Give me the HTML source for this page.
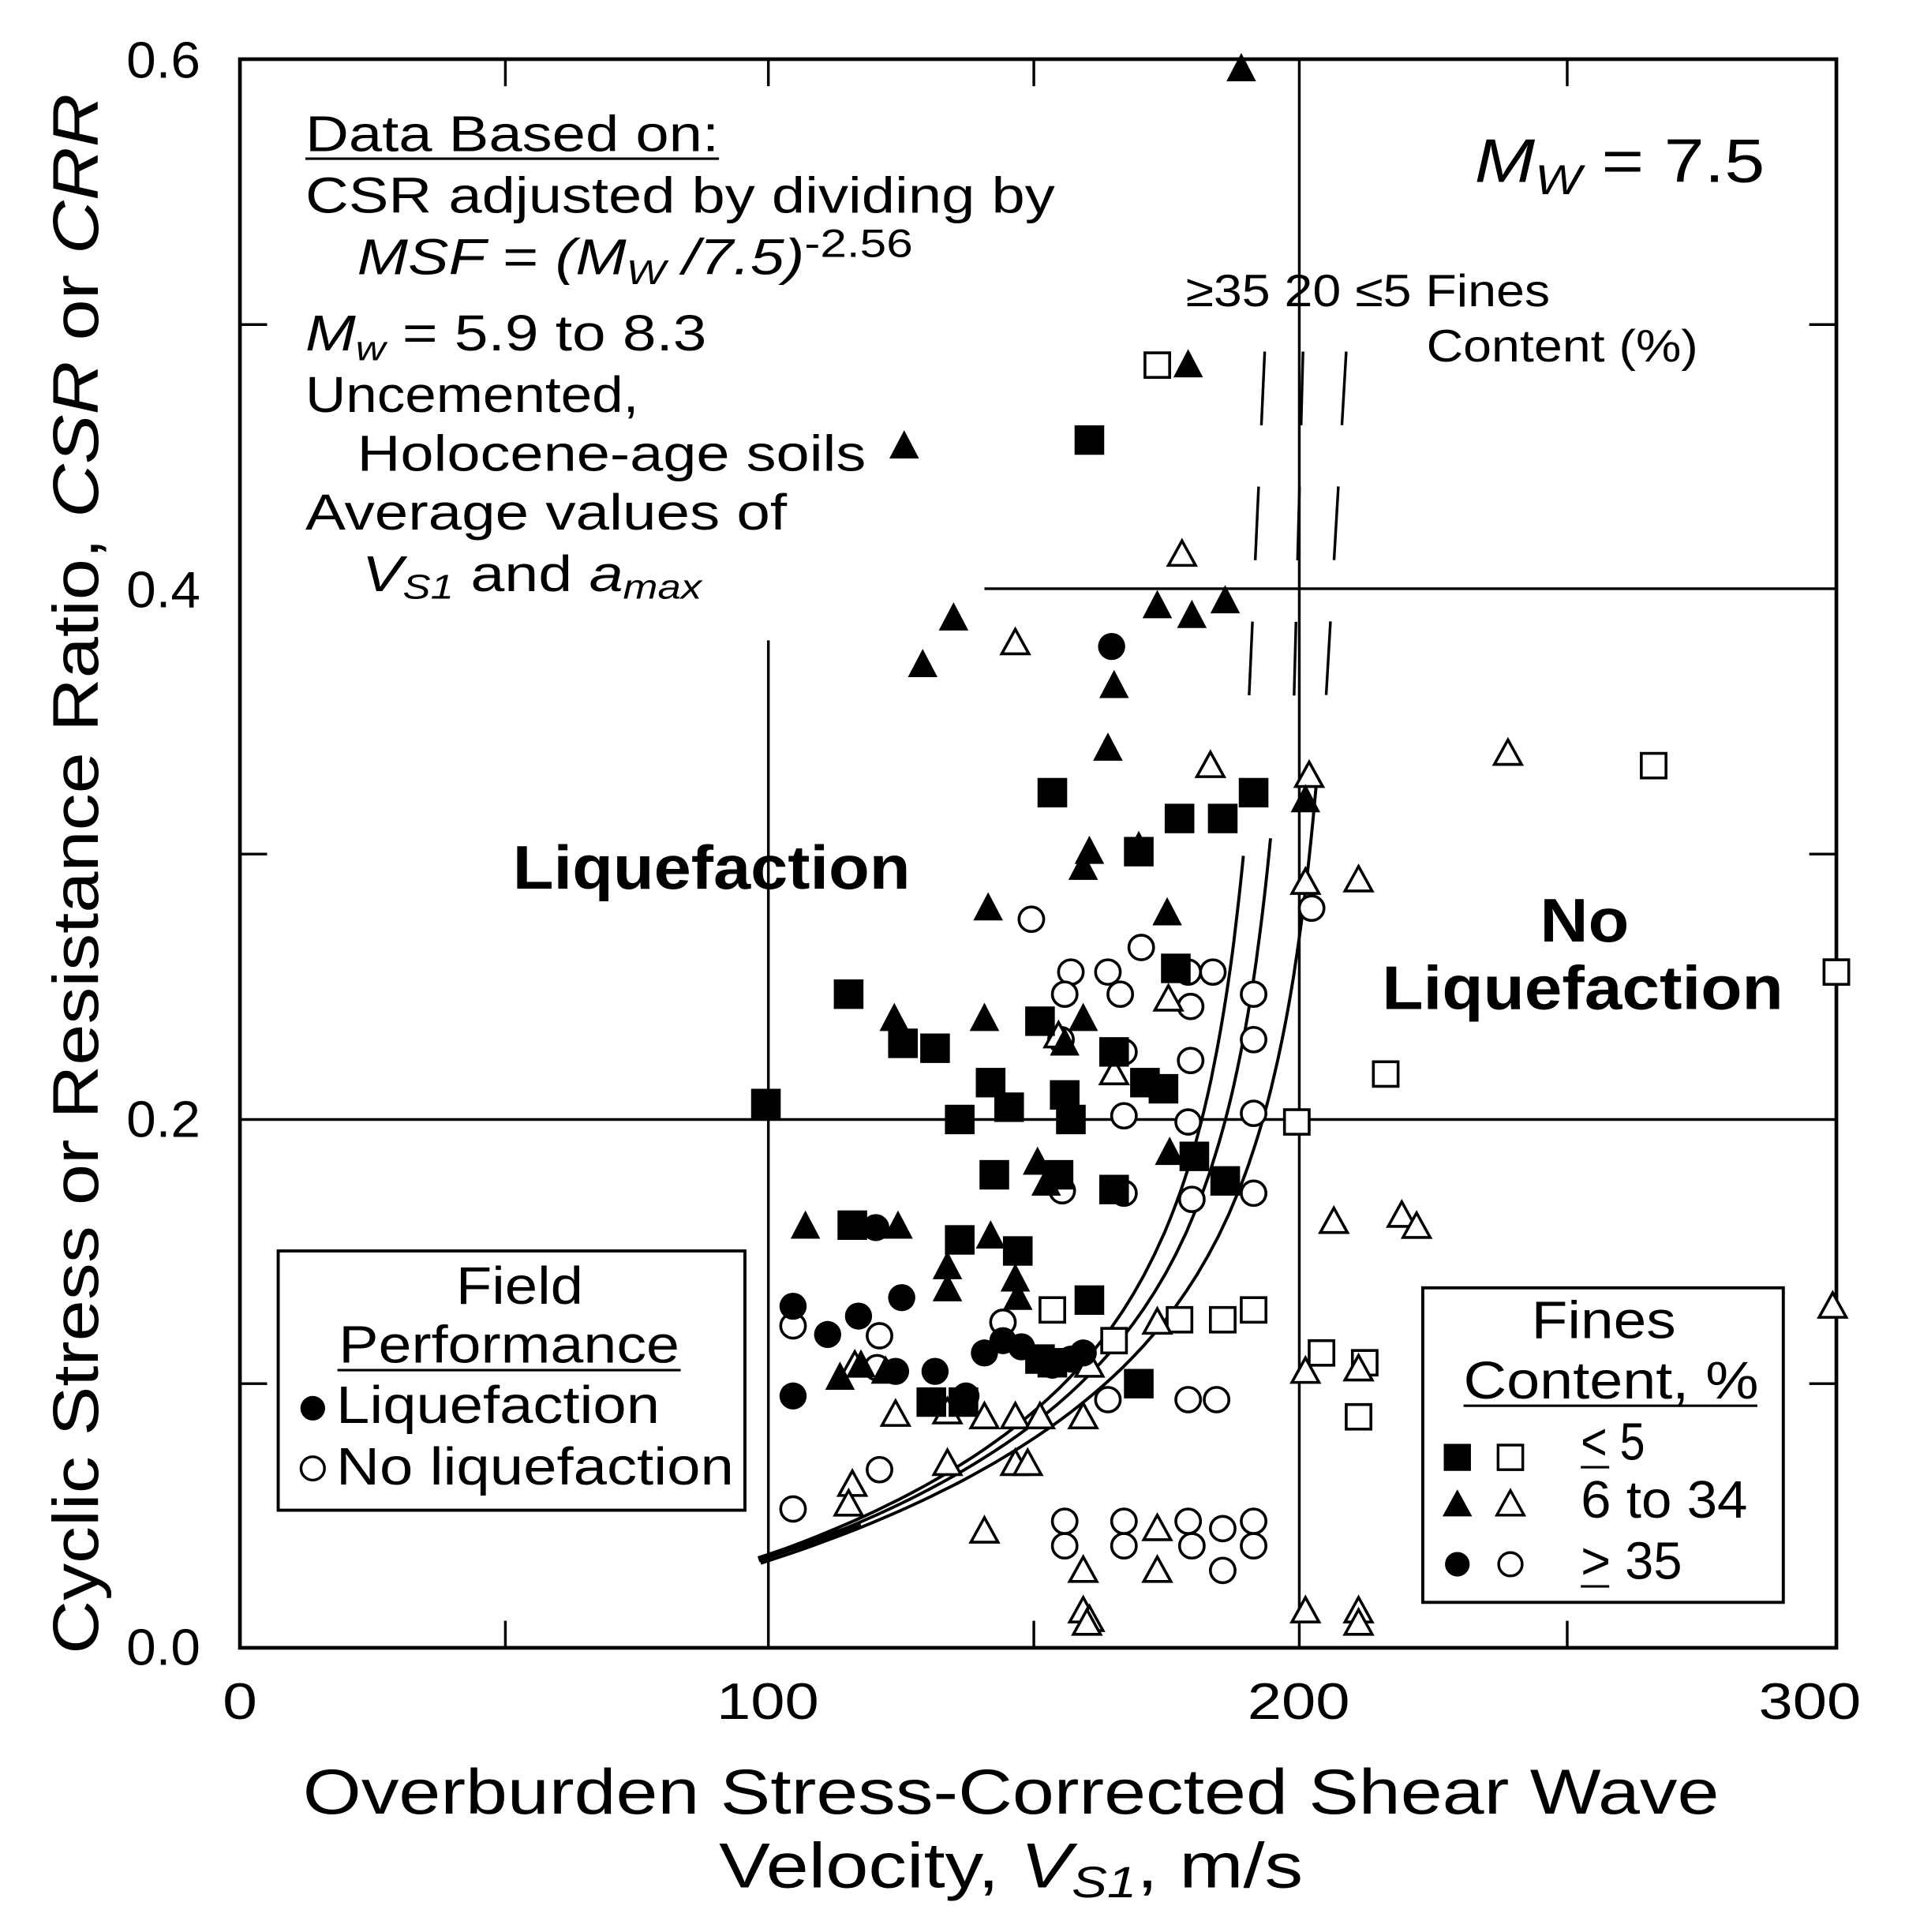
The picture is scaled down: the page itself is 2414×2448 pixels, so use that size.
<!DOCTYPE html>
<html><head><meta charset="utf-8"><style>
html,body{margin:0;padding:0;background:#fff}
svg{display:block}
text{font-family:"Liberation Sans",Arial,sans-serif;fill:#000}
</style></head><body>
<svg id="s" width="2414" height="2448" viewBox="0 0 2414 2448" xmlns="http://www.w3.org/2000/svg">
<g id="g" transform="translate(-4.2,1.8) scale(1.5646,1.5568)">
<rect x="197" y="47" width="1293" height="1293" fill="none" stroke="#000" stroke-width="3"/>
<g stroke="#000" stroke-width="2.2" fill="none">
<line x1="625" y1="520" x2="625" y2="1340"/>
<line x1="1055" y1="47" x2="1055" y2="1340"/>
<line x1="197" y1="910" x2="1490" y2="910"/>
<line x1="800" y1="478" x2="1490" y2="478"/>
<line x1="412" y1="1340" x2="412" y2="1318"/><line x1="840" y1="1340" x2="840" y2="1318"/><line x1="1272" y1="1340" x2="1272" y2="1318"/>
<line x1="412" y1="47" x2="412" y2="69"/><line x1="840" y1="47" x2="840" y2="69"/><line x1="1272" y1="47" x2="1272" y2="69"/><line x1="625" y1="47" x2="625" y2="69"/>
<line x1="197" y1="1125" x2="219" y2="1125"/><line x1="197" y1="694" x2="219" y2="694"/><line x1="197" y1="263" x2="219" y2="263"/>
<line x1="1490" y1="1125" x2="1468" y2="1125"/><line x1="1490" y1="694" x2="1468" y2="694"/><line x1="1490" y1="263" x2="1468" y2="263"/>
<line x1="1027" y1="285" x2="1013" y2="595" stroke-dasharray="60,50"/>
<line x1="1058" y1="285" x2="1050" y2="595" stroke-dasharray="60,50"/>
<line x1="1093" y1="285" x2="1075" y2="595" stroke-dasharray="60,50"/>
</g>
<g id="curves" stroke="#000" stroke-width="2.5" fill="none"></g>
<g id="pts"></g>
<g font-size="42">
<text x="105" y="62" textLength="60" lengthAdjust="spacingAndGlyphs">0.6</text><text x="105" y="493" textLength="60" lengthAdjust="spacingAndGlyphs">0.4</text><text x="105" y="924" textLength="60" lengthAdjust="spacingAndGlyphs">0.2</text><text x="105" y="1354" textLength="60" lengthAdjust="spacingAndGlyphs">0.0</text>
<text x="183" y="1398" textLength="28" lengthAdjust="spacingAndGlyphs">0</text>
<text x="583" y="1398" textLength="83" lengthAdjust="spacingAndGlyphs">100</text>
<text x="1013" y="1398" textLength="83" lengthAdjust="spacingAndGlyphs">200</text>
<text x="1427" y="1398" textLength="83" lengthAdjust="spacingAndGlyphs">300</text>
</g>
<text font-size="52" x="248" y="1475" textLength="1147" lengthAdjust="spacingAndGlyphs">Overburden Stress-Corrected Shear Wave</text>
<text font-size="52" x="585" y="1535" textLength="473" lengthAdjust="spacingAndGlyphs">Velocity, <tspan font-style="italic">V<tspan font-size="36" dy="8">S1</tspan></tspan><tspan dy="-8">, m/s</tspan></text>
<text font-size="52" transform="translate(82,1345) rotate(-90)" textLength="1270" lengthAdjust="spacingAndGlyphs">Cyclic Stress or Resistance Ratio, <tspan font-style="italic">CSR</tspan> or <tspan font-style="italic">CRR</tspan></text>
<g font-size="41">
<text x="250" y="122" textLength="335" lengthAdjust="spacingAndGlyphs">Data Based on:</text>
<line x1="250" y1="128" x2="585" y2="128" stroke="#000" stroke-width="2"/>
<text x="250" y="172" textLength="607" lengthAdjust="spacingAndGlyphs">CSR adjusted by dividing by</text>
<text x="292" y="222" textLength="450" lengthAdjust="spacingAndGlyphs"><tspan font-style="italic">MSF</tspan> = <tspan font-style="italic">(M<tspan font-size="28" dy="8">W</tspan><tspan dy="-8"> /7.5)</tspan></tspan><tspan font-size="32" dy="-14">-2.56</tspan></text>
<text x="250" y="284" textLength="325" lengthAdjust="spacingAndGlyphs"><tspan font-style="italic">M<tspan font-size="28" dy="8">w</tspan></tspan><tspan dy="-8"> = 5.9 to 8.3</tspan></text>
<text x="250" y="334" textLength="270" lengthAdjust="spacingAndGlyphs">Uncemented,</text>
<text x="292" y="382" textLength="412" lengthAdjust="spacingAndGlyphs">Holocene-age soils</text>
<text x="250" y="430" textLength="390" lengthAdjust="spacingAndGlyphs">Average values of</text>
<text x="296" y="480" textLength="275" lengthAdjust="spacingAndGlyphs"><tspan font-style="italic">V<tspan font-size="28" dy="6">S1</tspan></tspan><tspan dy="-6"> and </tspan><tspan font-style="italic">a<tspan font-size="28" dy="6">max</tspan></tspan></text>
</g>
<text x="1197" y="147" font-size="50" textLength="235" lengthAdjust="spacingAndGlyphs"><tspan font-style="italic">M<tspan font-size="34" dy="10">W</tspan></tspan><tspan dy="-10"> = 7.5</tspan></text>
<text x="963" y="248" font-size="37" textLength="295" lengthAdjust="spacingAndGlyphs">≥35 20 ≤5 Fines</text>
<text x="1158" y="293" font-size="37" textLength="220" lengthAdjust="spacingAndGlyphs">Content (%)</text>
<text x="418" y="722" font-size="50" font-weight="bold" textLength="322" lengthAdjust="spacingAndGlyphs">Liquefaction</text>
<text x="1250" y="765" font-size="50" font-weight="bold" textLength="72" lengthAdjust="spacingAndGlyphs">No</text>
<text x="1122" y="820" font-size="50" font-weight="bold" textLength="325" lengthAdjust="spacingAndGlyphs">Liquefaction</text>
<rect x="228" y="1017" width="378" height="211" fill="#fff" stroke="#000" stroke-width="2.5"/>
<g font-size="43">
<text x="372" y="1060" textLength="103" lengthAdjust="spacingAndGlyphs">Field</text>
<text x="277" y="1108" textLength="276" lengthAdjust="spacingAndGlyphs">Performance</text>
<line x1="276" y1="1114" x2="554" y2="1114" stroke="#000" stroke-width="2"/>
<circle cx="256" cy="1145" r="10"/>
<text x="275" y="1157" textLength="262" lengthAdjust="spacingAndGlyphs">Liquefaction</text>
<circle cx="256" cy="1194" r="9.5" fill="#fff" stroke="#000" stroke-width="2.2"/>
<text x="275" y="1207" textLength="322" lengthAdjust="spacingAndGlyphs">No liquefaction</text>
</g>
<rect x="1155" y="1047" width="292" height="256" fill="#fff" stroke="#000" stroke-width="2.5"/>
<g font-size="43">
<text x="1243" y="1088" textLength="117" lengthAdjust="spacingAndGlyphs">Fines</text>
<text x="1188" y="1137" textLength="239" lengthAdjust="spacingAndGlyphs">Content, %</text>
<line x1="1188" y1="1143" x2="1426" y2="1143" stroke="#000" stroke-width="2"/>
<rect x="1172" y="1174" width="22" height="22"/>
<rect x="1216" y="1175" width="20" height="20" fill="#fff" stroke="#000" stroke-width="2.2"/>
<text x="1283" y="1187" textLength="52" lengthAdjust="spacingAndGlyphs">&lt; 5</text><line x1="1283" y1="1193" x2="1306" y2="1193" stroke="#000" stroke-width="2"/>
<polygon points="1183,1211 1195,1233 1171,1233"/>
<polygon points="1226,1212 1237,1232 1215,1232" fill="#fff" stroke="#000" stroke-width="2.2"/>
<text x="1283" y="1234" textLength="135" lengthAdjust="spacingAndGlyphs">6 to 34</text>
<circle cx="1183" cy="1272" r="10"/>
<circle cx="1226" cy="1272" r="9.5" fill="#fff" stroke="#000" stroke-width="2.2"/>
<text x="1283" y="1284" textLength="82" lengthAdjust="spacingAndGlyphs">&gt; 35</text><line x1="1283" y1="1290" x2="1306" y2="1290" stroke="#000" stroke-width="2"/>
</g>
</g>
</svg>
<script>
(function(){
var NS="http://www.w3.org/2000/svg";
function el(t,a,p){var e=document.createElementNS(NS,t);for(var k in a)e.setAttribute(k,a[k]);p.appendChild(e);return e;}
var cg=document.getElementById("curves");
[200,205,213].forEach(function(vs,i){
 var vmax=[188.2,193.3,202][i],d="";
 for(var v=97.4;v<=vmax+0.01;v+=(vmax-v>15?2:0.3)){
  var c=0.022*(v/100)*(v/100)+2.8*(1/(vs-v)-1/vs);
  var x=197+v*4.31+2,y=1340-c*2155;
  d+=(d?"L":"M")+x.toFixed(1)+","+y.toFixed(1);
 }
 el("path",{d:d},cg);
});
el("path",{d:"M617,1268 L700,1240",stroke:"#000","stroke-width":"5",fill:"none"},cg);
var pg=document.getElementById("pts");
function sq(x,y,f){ if(f)el("rect",{x:x-12,y:y-12,width:24,height:24},pg); else el("rect",{x:x-10,y:y-10,width:20,height:20,fill:"#fff",stroke:"#000","stroke-width":2.3},pg);}
function tr(x,y,f){ if(f)el("polygon",{points:(x)+","+(y-13)+" "+(x+12)+","+(y+10)+" "+(x-12)+","+(y+10)},pg); else el("polygon",{points:(x)+","+(y-11)+" "+(x+11)+","+(y+9)+" "+(x-11)+","+(y+9),fill:"#fff",stroke:"#000","stroke-width":2.3},pg);}
function ci(x,y,f){ if(f)el("circle",{cx:x,cy:y,r:11},pg); else el("circle",{cx:x,cy:y,r:10,fill:"#fff",stroke:"#000","stroke-width":2.3},pg);}
var OC=[[838,747],[927,770],[870,790],[900,790],[965,790],[985,790],[865,808],[910,808],[967,818],[1018,808],[862,845],[913,855],[967,862],[1018,845],[913,907],[965,912],[1018,905],[863,968],[913,970],[968,975],[1018,970],[1065,738],[645,1078],[715,1086],[815,1075],[713,1112],[900,1138],[965,1138],[988,1138],[715,1195],[645,1227],[865,1237],[865,1257],[913,1237],[913,1257],[965,1237],[968,1257],[993,1243],[993,1277],[1018,1237],[1018,1257]];
var OS=[[940,296],[1342,622],[1490,790],[1125,873],[1053,912],[855,1065],[905,1090],[958,1073],[993,1073],[1018,1065],[1073,1100],[1108,1108],[1103,1152]];
var OT=[[960,450],[825,522],[983,622],[1063,630],[1224,612],[1060,717],[1103,715],[949,812],[905,872],[860,842],[1083,993],[1138,988],[1150,997],[1487,1062],[1060,1115],[1103,1113],[728,1150],[770,1148],[800,1152],[825,1152],[845,1152],[880,1152],[940,1075],[693,1207],[690,1223],[770,1190],[825,1190],[835,1190],[800,1245],[880,1277],[940,1277],[940,1243],[880,1310],[885,1317],[1060,1310],[1103,1310],[1103,1320],[883,1320],[695,1110],[885,1110]];
var FS=[[885,357],[855,644],[958,665],[993,665],[1018,644],[925,692],[955,787],[845,830],[690,808],[734,848],[760,852],[780,910],[805,880],[820,900],[865,890],[870,910],[905,855],[930,880],[945,885],[623,897],[808,955],[860,955],[905,967],[970,940],[995,960],[693,996],[780,1008],[827,1017],[757,1140],[783,1140],[885,1057],[925,1125],[845,1105],[855,1108]];
var FT=[[1008,55],[735,362],[965,296],[775,502],[750,540],[940,492],[968,500],[995,488],[905,557],[900,608],[885,692],[880,705],[925,688],[948,742],[803,738],[727,828],[800,828],[880,828],[865,848],[950,937],[843,945],[850,962],[655,997],[730,997],[770,1030],[805,1005],[770,1048],[825,1040],[827,1055],[700,1110],[683,1120],[720,1115],[1060,650]];
var FC=[[903,525],[645,1062],[698,1070],[733,1055],[673,1085],[645,1135],[712,998],[728,1115],[760,1115],[785,1135],[800,1100],[815,1090],[830,1095],[845,1105],[855,1110],[870,1105],[880,1100]];
OC.forEach(function(p){ci(p[0],p[1],0)});OS.forEach(function(p){sq(p[0],p[1],0)});OT.forEach(function(p){tr(p[0],p[1],0)});
FS.forEach(function(p){sq(p[0],p[1],1)});FT.forEach(function(p){tr(p[0],p[1],1)});FC.forEach(function(p){ci(p[0],p[1],1)});
})();
</script>
</body></html>
